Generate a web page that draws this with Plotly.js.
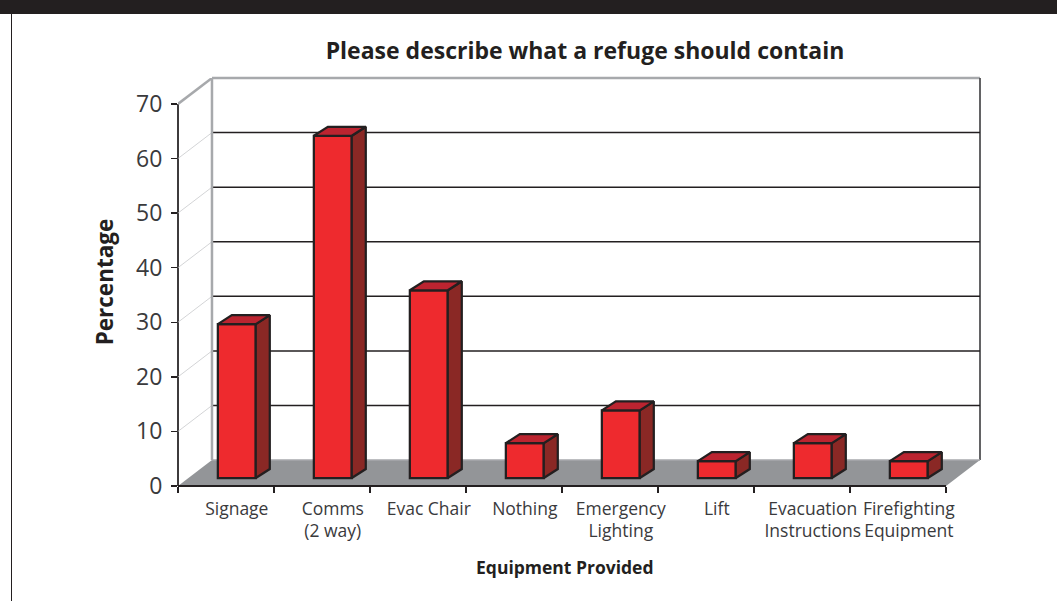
<!DOCTYPE html>
<html>
<head>
<meta charset="utf-8">
<script src="https://cdn.plot.ly/plotly-3.0.1.min.js"></script>
<style>html,body{margin:0;padding:0;background:#fff}</style>
</head>
<body>
<div id="chart" style="width:1057px;height:601px"></div>
<script>
// Survey responses, percentage of respondents per item
const categories = ['Signage', 'Comms<br>(2 way)', 'Evac Chair', 'Nothing', 'Emergency<br>Lighting', 'Lift', 'Evacuation<br>Instructions', 'Firefighting<br>Equipment'];
const percentages = [28.2, 62.7, 34.4, 6.4, 12.4, 3.1, 6.4, 3.1];
const yTicks = [0, 10, 20, 30, 40, 50, 60, 70];

// Pseudo-3D box geometry, in axis units
const wallDx = 0.354, wallDy = 4.75;   // offset of the back wall from the front plane
const barBase = 1.46;                  // bars stand part way into the floor
const barLeft = 0.415, barWidth = 0.395;
const barDx = 0.146, barDy = 1.65;     // depth of each bar

const ink = '#231f20', wallGrey = '#a7a9ac', floorGrey = '#939598';
const xMax = categories.length;
const yMax = yTicks[yTicks.length - 1];

const lefts = categories.map((_, i) => i + barLeft);
const centers = lefts.map(l => l + barWidth / 2);

// Builds one polygon per bar, separated by gaps, for a single fill trace
function polygons(corners) {
  const xs = [], ys = [];
  percentages.forEach((v, i) => {
    corners(lefts[i], lefts[i] + barWidth, barBase, barBase + v).forEach(p => { xs.push(p[0]); ys.push(p[1]); });
    xs.push(null); ys.push(null);
  });
  return {x: xs, y: ys};
}

const frontFaces = {
  type: 'bar', x: centers, y: percentages, base: barBase,
  width: barWidth,
  marker: {color: '#ee2a2e', line: {color: ink, width: 2.25}},
  hoverinfo: 'skip'
};
const sideFaces = Object.assign({
  type: 'scatter', mode: 'lines', fill: 'toself', fillcolor: '#8a2825',
  line: {color: ink, width: 2.25}, hoverinfo: 'skip'
}, polygons((l, r, b, t) => [[r, b], [r + barDx, b + barDy], [r + barDx, t + barDy], [r, t], [r, b]]));
const topFaces = Object.assign({
  type: 'scatter', mode: 'lines', fill: 'toself', fillcolor: '#bc2430',
  line: {color: ink, width: 2.25}, hoverinfo: 'skip'
}, polygons((l, r, b, t) => [[l, t], [l + barDx, t + barDy], [r + barDx, t + barDy], [r, t], [l, t]]));

function seg(x0, y0, x1, y1, color, width) {
  return {type: 'line', xref: 'x', yref: 'y', layer: 'below', x0, y0, x1, y1, line: {color, width}};
}

const shapes = [];
// Floor
shapes.push({
  type: 'path', xref: 'x', yref: 'y', layer: 'below',
  path: `M0,0 L${xMax},0 L${xMax + wallDx},${wallDy} L${wallDx},${wallDy} Z`,
  fillcolor: floorGrey, line: {width: 0}
});
// Gridlines on the back wall, with thin returns along the side wall
yTicks.slice(1, -1).forEach(t => {
  shapes.push(seg(wallDx, t + wallDy, xMax + wallDx, t + wallDy, ink, 1.5));
  shapes.push(seg(0, t, wallDx, t + wallDy, '#c4c6c8', 0.75));
});
// Wall outline; edges on the plot boundary use paper references so they are not clipped in half
shapes.push(seg(0, yMax, wallDx, yMax + wallDy, wallGrey, 2.5));
shapes.push(seg(wallDx, wallDy, wallDx, yMax + wallDy, wallGrey, 2.5));
shapes.push({type: 'line', xref: 'x', yref: 'paper', layer: 'below',
  x0: wallDx, x1: xMax + wallDx, y0: 1, y1: 1, line: {color: wallGrey, width: 2.5}});
shapes.push(seg(wallDx, wallDy, xMax + wallDx, wallDy, wallGrey, 1.5));
shapes.push({type: 'line', xref: 'paper', yref: 'y', layer: 'below',
  x0: 1, x1: 1, y0: wallDy, y1: yMax + wallDy, line: {color: '#4d4d4f', width: 1.75}});
// Front axis lines
shapes.push({type: 'line', xref: 'paper', yref: 'y', layer: 'below',
  x0: 0, x1: 0, y0: 0, y1: yMax, line: {color: ink, width: 1.75}});
shapes.push({type: 'line', xref: 'x', yref: 'paper', layer: 'above',
  x0: 0, x1: xMax, y0: 0, y1: 0, line: {color: ink, width: 2}});
// Page furniture: dark band and left rule
shapes.push({type: 'rect', xref: 'paper', yref: 'paper', layer: 'below',
  x0: -178 / 802, x1: 879 / 802, y0: 1 + 64 / 408, y1: 1 + 78 / 408, fillcolor: ink, line: {width: 0}});
shapes.push({type: 'line', xref: 'paper', yref: 'paper', layer: 'below',
  x0: -166.5 / 802, x1: -166.5 / 802, y0: -115 / 408, y1: 1 + 64 / 408, line: {color: ink, width: 1}});

const textFont = '"Open Sans", "Noto Sans", sans-serif';
const layout = {
  width: 1057, height: 601,
  margin: {l: 178, r: 77, t: 78, b: 115, pad: 0},
  paper_bgcolor: '#fff', plot_bgcolor: '#fff',
  showlegend: false,
  title: {text: '<b>Please describe what a refuge should contain</b>',
    font: {family: textFont, size: 23, color: ink},
    x: 585 / 1057, xanchor: 'center', y: 1 - 51 / 601, yanchor: 'middle'},
  xaxis: {
    range: [0, xMax + wallDx], tickmode: 'array', tickvals: centers, ticktext: categories,
    ticks: '', ticklen: 0, showgrid: false, zeroline: false, showline: false,
    tickangle: 0, ticklabelstandoff: 10,
    tickfont: {family: textFont, size: 17.5, color: '#3a3a3c'},
    minor: {tickmode: 'array', tickvals: Array.from({length: xMax + 1}, (_, i) => i),
      ticks: 'outside', ticklen: 6, tickwidth: 1.5, tickcolor: ink, showgrid: false}
  },
  yaxis: {
    range: [0, yMax + wallDy], tickmode: 'array', tickvals: yTicks,
    ticks: 'outside', ticklen: 6, tickwidth: 1.5, tickcolor: ink,
    showgrid: false, zeroline: false, showline: false,
    ticklabelstandoff: 4,
    tickfont: {family: textFont, size: 23, color: '#3a3a3c'},
    title: {text: '<b>Percentage</b>', font: {family: textFont, size: 22.5, color: ink}, standoff: 16}
  },
  annotations: [{
    text: '<b>Equipment Provided</b>', xref: 'paper', yref: 'paper',
    x: (565 - 178) / 802, y: -(567 - 486) / 408, xanchor: 'center', yanchor: 'middle',
    showarrow: false, font: {family: textFont, size: 17.5, color: ink}
  }],
  shapes
};

Plotly.newPlot('chart', [frontFaces, sideFaces, topFaces], layout, {displayModeBar: false, staticPlot: true});
</script>
</body>
</html>
